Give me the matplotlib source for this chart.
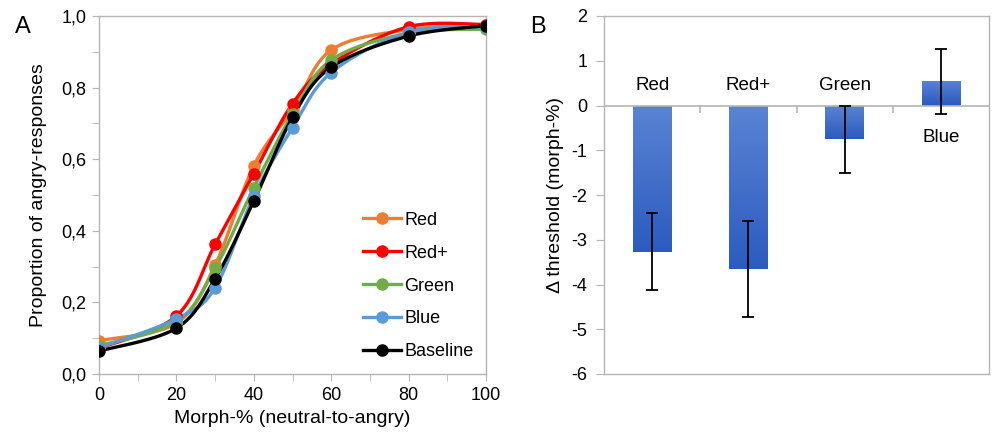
import numpy as np
import matplotlib
matplotlib.use("Agg")
import matplotlib.pyplot as plt
from matplotlib.colors import LinearSegmentedColormap
from matplotlib.ticker import MultipleLocator, FuncFormatter
from matplotlib.lines import Line2D

plt.rcParams['font.family'] = ['Liberation Sans', 'DejaVu Sans']

# ---------------- data ----------------
morph = [0, 20, 30, 40, 50, 60, 80, 100]
series_names = ["Red", "Red+", "Green", "Blue", "Baseline"]
red = [0.093, 0.142, 0.304, 0.582, 0.737, 0.905, 0.962, 0.975]
red_plus = [0.072, 0.162, 0.362, 0.560, 0.755, 0.866, 0.970, 0.976]
green = [0.079, 0.146, 0.295, 0.520, 0.726, 0.877, 0.952, 0.963]
blue = [0.073, 0.154, 0.241, 0.497, 0.688, 0.842, 0.955, 0.970]
baseline = [0.064, 0.128, 0.266, 0.483, 0.717, 0.857, 0.944, 0.973]
series_colors = ["#ED7D31", "#FF0000", "#70AD47", "#5B9BD5", "#000000"]

conditions = ["Red", "Red+", "Green", "Blue"]
delta_threshold = [-3.27, -3.65, -0.75, 0.54]
delta_err = [0.86, 1.07, 0.75, 0.73]


def smooth(xs, ys, sx=3.88, sy=358.0, n=30):
    """Catmull-Rom smoothing (like Excel smoothed lines) in pixel-like space."""
    P = np.column_stack([np.asarray(xs, float) * sx, np.asarray(ys, float) * sy])
    P = np.vstack([P[0], P, P[-1]])
    out = []
    for i in range(1, len(P) - 2):
        p0, p1, p2, p3 = P[i - 1], P[i], P[i + 1], P[i + 2]
        c1 = p1 + (p2 - p0) / 6.0
        c2 = p2 - (p3 - p1) / 6.0
        t = np.linspace(0, 1, n)[:, None]
        b = ((1 - t) ** 3) * p1 + 3 * ((1 - t) ** 2) * t * c1 + 3 * (1 - t) * t ** 2 * c2 + t ** 3 * p2
        out.append(b if i == 1 else b[1:])
    B = np.vstack(out)
    return B[:, 0] / sx, B[:, 1] / sy


fig = plt.figure(figsize=(9.96, 4.34), dpi=100)
frame_col = "#B5B5B5"

# ---------------- panel A ----------------
axA = fig.add_axes([99 / 996, 1 - 374 / 434, (486 - 99) / 996, (374 - 16) / 434])
all_series = [red, red_plus, green, blue, baseline]
for name, vals, col in zip(series_names, all_series, series_colors):
    sxv, syv = smooth(morph, vals)
    axA.plot(sxv, syv, color=col, lw=2.4, solid_capstyle='round', zorder=3)
    axA.plot(morph, vals, 'o', color=col, ms=8, zorder=4, label=name)

handles = [Line2D([0], [0], color=c, lw=2.4, marker='o', ms=8) for c in series_colors]
leg = axA.legend(handles, series_names, loc='lower right', bbox_to_anchor=(1.0, 0.003),
                 frameon=False, fontsize=13, handlelength=2.1, handletextpad=0.15,
                 labelspacing=0.88, borderaxespad=0.3)

axA.set_xlim(0, 100)
axA.set_ylim(0, 1)
axA.xaxis.set_major_locator(MultipleLocator(20))
axA.xaxis.set_minor_locator(MultipleLocator(10))
axA.yaxis.set_major_locator(MultipleLocator(0.2))
axA.yaxis.set_minor_locator(MultipleLocator(0.1))
axA.yaxis.set_major_formatter(FuncFormatter(lambda v, p: f"{v:.1f}".replace('.', ',')))
axA.tick_params(which='both', direction='out', color=frame_col, labelsize=13)
axA.tick_params(which='major', length=5, pad=4)
axA.tick_params(which='minor', length=5)
for s in axA.spines.values():
    s.set_color(frame_col)
    s.set_linewidth(1.0)
axA.set_xlabel("Morph-% (neutral-to-angry)", fontsize=14, labelpad=5)
axA.set_ylabel("Proportion of angry-responses", fontsize=14, labelpad=10)
fig.text(15 / 996, 1 - 27 / 434, "A", fontsize=17, va='center', ha='left')

# ---------------- panel B ----------------
axB = fig.add_axes([604 / 996, 1 - 374 / 434, (989 - 604) / 996, (374 - 16) / 434])
xpos = np.arange(len(conditions))
bars = axB.bar(xpos, delta_threshold, width=0.4, color="#3F6CC8", zorder=2)
cmap = LinearSegmentedColormap.from_list("grad", ["#5A84D3", "#2C5BC0"])
grad = np.linspace(0, 1, 256)[:, None]
axB.set_xlim(-0.5, len(conditions) - 0.5)
axB.set_ylim(-6, 2)
for b in bars:
    x0, w = b.get_x(), b.get_width()
    y0, h = b.get_y(), b.get_height()
    top, bot = max(y0, y0 + h), min(y0, y0 + h)
    im = axB.imshow(grad, cmap=cmap, aspect='auto', extent=[x0, x0 + w, bot, top],
                    origin='upper', zorder=2.5)
    im.set_clip_path(b)
axB.errorbar(xpos, delta_threshold, yerr=delta_err, fmt='none', ecolor='black',
             elinewidth=1.3, capsize=4, capthick=1.3, zorder=4)
axB.axhline(0, color=frame_col, lw=1.2, zorder=3)
axB.set_xlim(-0.5, len(conditions) - 0.5)
axB.set_ylim(-6, 2)

for xi, name, v in zip(xpos, conditions, delta_threshold):
    if v < 0:
        axB.text(xi, 0.45, name, ha='center', va='center', fontsize=13.5)
    else:
        axB.text(xi, -0.72, name, ha='center', va='center', fontsize=13.5)

axB.set_xticks([])
axB.yaxis.set_major_locator(MultipleLocator(1))
axB.yaxis.set_major_formatter(FuncFormatter(lambda v, p: f"{int(round(v))}"))
axB.tick_params(axis='y', direction='out', color=frame_col, length=6, labelsize=13, pad=6)
for s in axB.spines.values():
    s.set_color(frame_col)
    s.set_linewidth(1.0)
# category boundary ticks on the zero line (pointing down)
sec = axB.secondary_xaxis(0.75)
sec.set_xticks(xpos[:-1] + 0.5)
sec.set_xticklabels([])
sec.tick_params(direction='in', length=6, color=frame_col, width=1.2)
for sp in sec.spines.values():
    sp.set_visible(False)
axB.set_ylabel("Δ threshold (morph-%)", fontsize=14, labelpad=5)
fig.text(530 / 996, 1 - 27 / 434, "B", fontsize=17, va='center', ha='left')

fig.savefig("out.png", dpi=100)
